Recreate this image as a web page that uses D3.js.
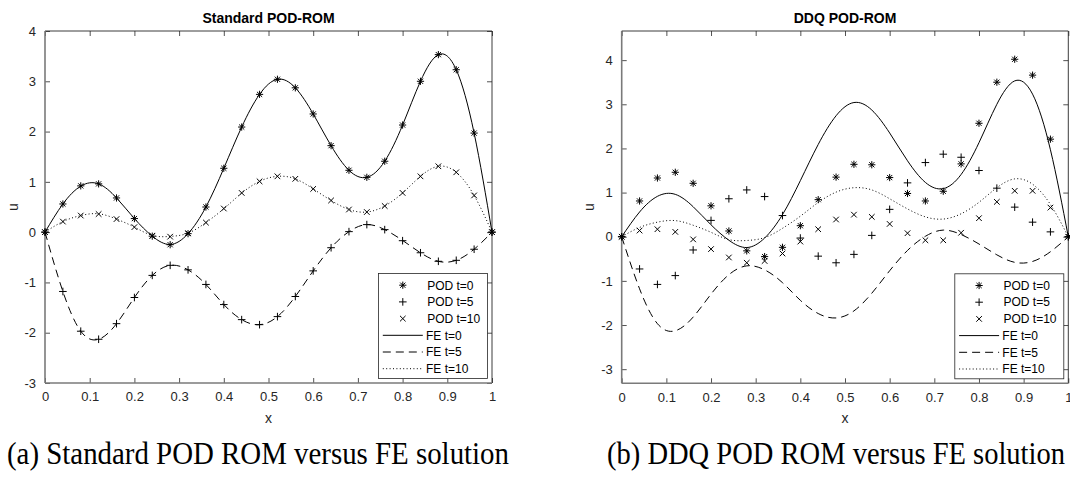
<!DOCTYPE html>
<html>
<head>
<meta charset="UTF-8">
<script src="https://d3js.org/d3.v7.min.js"></script>
<style>
body { margin: 0; background: white; }
text { font-family: "Liberation Sans", Arial, sans-serif; }
</style>
</head>
<body>
<svg width="1070" height="477"></svg>
<script>
// sample points (x) and ticks
const xGrid = [0, 0.04, 0.08, 0.12, 0.16, 0.2, 0.24, 0.28, 0.32, 0.36, 0.4, 0.44, 0.48,
  0.52, 0.56, 0.6, 0.64, 0.68, 0.72, 0.76, 0.8, 0.84, 0.88, 0.92, 0.96, 1];
const xTicks = [0, 0.1, 0.2, 0.3, 0.4, 0.5, 0.6, 0.7, 0.8, 0.9, 1];
const yTicks = [-3, -2, -1, 0, 1, 2, 3, 4];

// FE solution
const feT0 = [0, 0.56, 0.915, 0.96, 0.68, 0.27, -0.08, -0.245, -0.03, 0.5, 1.27, 2.09, 2.74,
  3.04, 2.87, 2.35, 1.72, 1.23, 1.09, 1.41, 2.13, 3.0, 3.53, 3.23, 1.97, 0];
const feT5 = [0, -1.18, -1.97, -2.13, -1.82, -1.3, -0.86, -0.66, -0.75, -1.04, -1.44, -1.74, -1.84,
  -1.68, -1.28, -0.77, -0.31, 0.01, 0.15, 0.05, -0.165, -0.41, -0.58, -0.56, -0.34, 0];
const feT10 = [0, 0.21, 0.33, 0.365, 0.26, 0.1, -0.065, -0.085, -0.02, 0.19, 0.465, 0.775, 1.01,
  1.11, 1.06, 0.86, 0.63, 0.45, 0.4, 0.52, 0.78, 1.11, 1.31, 1.19, 0.73, 0];

// standard POD-ROM
const stdT0 = [0, 0.56, 0.92, 0.96, 0.68, 0.27, -0.08, -0.25, -0.03, 0.5, 1.27, 2.09, 2.74,
  3.04, 2.87, 2.35, 1.72, 1.23, 1.09, 1.41, 2.13, 3.0, 3.53, 3.23, 1.97, 0];
const stdT5 = [0, -1.18, -1.97, -2.13, -1.82, -1.3, -0.86, -0.66, -0.75, -1.04, -1.44, -1.74, -1.84,
  -1.68, -1.28, -0.77, -0.31, 0.01, 0.15, 0.05, -0.17, -0.41, -0.58, -0.56, -0.34, 0];
const stdT10 = [0, 0.21, 0.33, 0.36, 0.26, 0.1, -0.07, -0.09, -0.02, 0.19, 0.47, 0.78, 1.01,
  1.11, 1.06, 0.86, 0.63, 0.45, 0.4, 0.52, 0.78, 1.11, 1.31, 1.19, 0.73, 0];

// DDQ POD-ROM
const ddqT0 = [0, 0.81, 1.33, 1.46, 1.21, 0.7, 0.13, -0.32, -0.45, -0.24, 0.25, 0.84, 1.35,
  1.64, 1.63, 1.34, 0.98, 0.81, 1.03, 1.65, 2.57, 3.5, 4.02, 3.66, 2.21, 0];
const ddqT5 = [0, -0.73, -1.08, -0.88, -0.3, 0.37, 0.86, 1.06, 0.91, 0.48, -0.03, -0.44, -0.59,
  -0.4, 0.03, 0.62, 1.22, 1.68, 1.87, 1.8, 1.5, 1.1, 0.67, 0.33, 0.11, 0];
const ddqT10 = [0, 0.14, 0.17, 0.11, -0.06, -0.28, -0.47, -0.59, -0.55, -0.38, -0.11, 0.17, 0.39,
  0.5, 0.45, 0.29, 0.08, -0.08, -0.08, 0.09, 0.42, 0.79, 1.04, 1.04, 0.66, 0];

const legendLabels = ["POD t=0", "POD t=5", "POD t=10", "FE t=0", "FE t=5", "FE t=10"];

const svg = d3.select("svg");
svg.append("rect").attr("width", 1070).attr("height", 477).attr("fill", "white");

const axisCol = "#262626";

// marker paths
function starPath(s) {
  let a = s * 0.72;
  return "M" + (-s) + ",0L" + s + ",0M0," + (-s) + "L0," + s +
    "M" + (-a) + "," + (-a) + "L" + a + "," + a + "M" + (-a) + "," + a + "L" + a + "," + (-a);
}
function plusPath(s) {
  return "M" + (-s) + ",0L" + s + ",0M0," + (-s) + "L0," + s;
}
function xPath(s) {
  return "M" + (-s) + "," + (-s) + "L" + s + "," + s + "M" + (-s) + "," + s + "L" + s + "," + (-s);
}
const markers = [starPath(3.6), plusPath(3.8), xPath(2.8)];
const dashes = [null, "8,5", "1,2.4"];

function drawPanel(p) {
  const x = d3.scaleLinear().domain([0, 1]).range([p.left, p.right]);
  const y = d3.scaleLinear().domain(p.yDomain).range([p.bottom, p.top]);
  const g = svg.append("g");

  // title
  g.append("text")
    .attr("x", (p.left + p.right) / 2).attr("y", 23)
    .attr("text-anchor", "middle")
    .style("font-size", "14px").style("font-weight", "bold")
    .text(p.title);

  // ticks (inward) on all four sides
  const fmt = d => String(d);
  g.append("g").attr("transform", "translate(0," + p.bottom + ")")
    .call(d3.axisBottom(x).tickValues(xTicks).tickFormat(fmt).tickSizeInner(-5).tickSizeOuter(0).tickPadding(9));
  g.append("g").attr("transform", "translate(0," + p.top + ")")
    .call(d3.axisTop(x).tickValues(xTicks).tickFormat("").tickSizeInner(-5).tickSizeOuter(0));
  g.append("g").attr("transform", "translate(" + p.left + ",0)")
    .call(d3.axisLeft(y).tickValues(yTicks).tickFormat(fmt).tickSizeInner(-5).tickSizeOuter(0).tickPadding(9));
  g.append("g").attr("transform", "translate(" + p.right + ",0)")
    .call(d3.axisRight(y).tickValues(yTicks).tickFormat("").tickSizeInner(-5).tickSizeOuter(0));
  g.selectAll(".domain").remove();
  g.selectAll(".tick line").attr("stroke", axisCol).attr("stroke-width", 0.8);
  g.selectAll(".tick text").attr("fill", axisCol)
    .style("font-size", "13px").style("font-family", "Liberation Sans, Arial, sans-serif");

  // box
  g.append("line").attr("x1", p.left).attr("x2", p.right).attr("y1", p.top).attr("y2", p.top)
    .attr("stroke", axisCol).attr("stroke-width", 0.9);
  g.append("line").attr("x1", p.right).attr("x2", p.right).attr("y1", p.top).attr("y2", p.bottom)
    .attr("stroke", axisCol).attr("stroke-width", 0.9);
  g.append("line").attr("x1", p.left).attr("x2", p.left).attr("y1", p.top).attr("y2", p.bottom)
    .attr("stroke", "#7a7a7a").attr("stroke-width", 1.6);
  g.append("line").attr("x1", p.left).attr("x2", p.right).attr("y1", p.bottom).attr("y2", p.bottom)
    .attr("stroke", "#7a7a7a").attr("stroke-width", 1.6);

  // axis labels
  g.append("text").attr("x", (p.left + p.right) / 2).attr("y", 423)
    .attr("text-anchor", "middle").attr("fill", axisCol)
    .style("font-size", "14px").text("x");
  g.append("text")
    .attr("transform", "translate(" + (p.left - 27.5) + "," + ((p.top + p.bottom) / 2) + ") rotate(-90)")
    .attr("text-anchor", "middle").attr("fill", axisCol)
    .style("font-size", "14px").text("u");

  // FE lines
  const line = d3.line()
    .x((d, i) => x(xGrid[i]))
    .y(d => y(d))
    .curve(d3.curveNatural);
  [feT0, feT5, feT10].forEach(function(s, i) {
    g.append("path").attr("d", line(s))
      .attr("fill", "none").attr("stroke", "black").attr("stroke-width", 1)
      .attr("stroke-dasharray", dashes[i]);
  });

  // POD markers
  p.pod.forEach(function(s, k) {
    g.append("g").selectAll("path")
      .data(s)
      .join("path")
      .attr("transform", (d, i) => "translate(" + x(xGrid[i]) + "," + y(d) + ")")
      .attr("d", markers[k])
      .attr("fill", "none").attr("stroke", "black").attr("stroke-width", 1);
  });

  // legend
  const lw = 109, lh = 105;
  const lg = g.append("g")
    .attr("transform", "translate(" + (p.right - 4.5 - lw) + "," + (p.bottom - 4.5 - lh) + ")");
  lg.append("rect").attr("width", lw).attr("height", lh)
    .attr("fill", "white").attr("stroke", axisCol).attr("stroke-width", 0.8);
  legendLabels.forEach(function(lab, i) {
    const ry = 11.7 + i * 16.7;
    if (i < 3) {
      lg.append("path").attr("transform", "translate(24.3," + ry + ")")
        .attr("d", markers[i]).attr("fill", "none").attr("stroke", "black").attr("stroke-width", 1);
    } else {
      lg.append("line").attr("x1", 4.3).attr("x2", 44.3).attr("y1", ry).attr("y2", ry)
        .attr("stroke", "black").attr("stroke-width", 1)
        .attr("stroke-dasharray", dashes[i - 3]);
    }
    lg.append("text").attr("x", i < 3 ? 48.7 : 47.5).attr("y", ry + 4.3)
      .attr("fill", "black").style("font-size", "12px").text(lab);
  });

  // caption (condensed serif, as in the source figure)
  svg.append("text").attr("x", p.capX).attr("y", 464)
    .style("font-family", "Liberation Serif, Times New Roman, serif")
    .style("font-size", "31px")
    .attr("textLength", p.capW).attr("lengthAdjust", "spacingAndGlyphs")
    .text(p.caption);
}

drawPanel({
  title: "Standard POD-ROM", left: 45, right: 492, top: 31, bottom: 383,
  yDomain: [-3, 4], pod: [stdT0, stdT5, stdT10],
  caption: "(a) Standard POD ROM versus FE solution", capX: 7, capW: 502
});
drawPanel({
  title: "DDQ POD-ROM", left: 621.7, right: 1068.3, top: 31, bottom: 383.3,
  yDomain: [-3.32, 4.66], pod: [ddqT0, ddqT5, ddqT10],
  caption: "(b) DDQ POD ROM versus FE solution", capX: 607, capW: 458
});
</script>
</body>
</html>
